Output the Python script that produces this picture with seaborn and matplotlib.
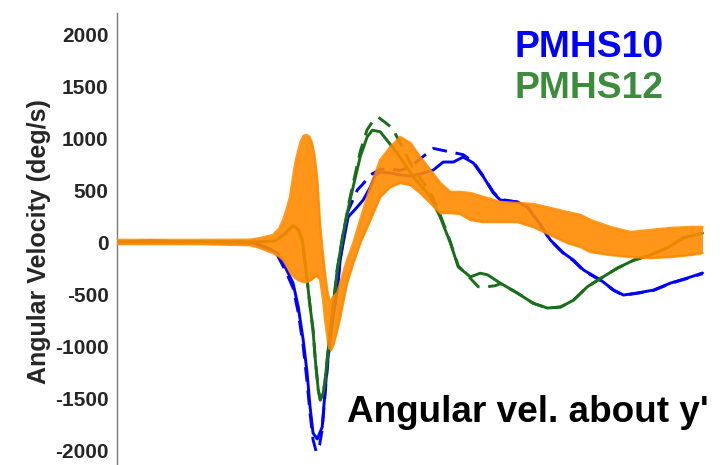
import numpy as np
import pandas as pd
import matplotlib
matplotlib.use("Agg")
import matplotlib.pyplot as plt
import seaborn as sns

# ---------------- data (time in ms, angular velocity in deg/s) ----------------
pmhs10_t = [0, 10.1, 25.3, 37.6, 42.1, 43.7, 46.7, 48.9, 51.3, 53.7, 55.3, 56.8, 58.0, 58.9,
            59.8, 61.1, 62.6, 63.5, 64.4, 65.6, 67.2, 68.1, 69.0, 70.5, 73.3, 75.1, 77.3,
            78.8, 80.3, 83.4, 86.4, 89.5, 92.5, 96.5, 99.5, 102.6, 105.6, 108.7, 111.8,
            114.8, 116.9, 122.1, 125.2, 129.2, 132.2, 136.2, 139.2, 142.3, 147.5, 151.5,
            154.5, 158.8, 163.7, 168.9, 174.0, 178.6]
pmhs10_v = [0, 10, 0, 0, -10, -29, -67, -106, -240, -394, -625, -942, -1260, -1587,
            -1837, -1894, -1779, -1423, -1106, -779, -462, -173, -10, 240, 337, 404, 529,
            644, 673, 663, 644, 635, 654, 692, 769, 769, 817, 760, 625,
            471, 404, 385, 337, 163, 19, -106, -173, -269, -365, -462,
            -510, -490, -462, -394, -346, -298]

pmhs10d_t = [0, 25.3, 37.6, 42.1, 43.7, 46.7, 48.9, 51.3, 53.7, 55.3, 56.8, 58.0, 58.9,
             59.8, 60.8, 61.8, 62.6, 63.5, 64.4, 65.6, 67.2, 68.1, 69.0, 70.5, 73.3,
             75.1, 77.3, 80.3, 83.4, 86.4, 89.5, 92.5, 96.5, 99.5, 102.6, 105.6, 108.7,
             111.8, 114.8, 116.9, 122.1, 125.2, 129.2, 132.2, 136.2, 139.2, 142.3,
             147.5, 151.5, 154.5, 158.8, 163.7, 168.9, 174.0, 178.6]
pmhs10d_v = [0, 0, 0, -15, -35, -80, -125, -270, -440, -680, -1000, -1350, -1650,
             -1900, -2020, -1950, -1800, -1450, -1120, -780, -450, -150, 20, 300, 500,
             560, 645, 700, 700, 690, 720, 800, 900, 880, 860, 840, 770,
             630, 480, 410, 385, 335, 160, 15, -110, -180, -275,
             -370, -465, -512, -492, -465, -398, -350, -305]

pmhs12_t = [0, 40.6, 48.2, 51.3, 53.7, 55.3, 56.5, 58.0, 58.9, 59.8, 60.5, 61.4, 62.0,
            62.9, 63.5, 64.4, 66.0, 67.2, 69.0, 71.1, 74.2, 76.3, 77.9, 80.3, 82.7, 85.5,
            90.4, 95.6, 98.6, 101.7, 104.1, 107.8, 110.8, 113.0, 116.9, 122.1, 127.0,
            131.3, 135.3, 139.2, 143.5, 147.5, 152.7, 157.6, 162.7, 167.9, 172.8, 178.6]
pmhs12_v = [0, 0, 10, 80, 160, 120, 20, -365, -620, -846, -1135, -1423, -1519,
            -1450, -1327, -1038, -600, -260, 85, 404, 820, 1010, 1075, 1060, 965, 855,
            625, 435, 240, -10, -240, -335, -300, -315, -395, -490, -590,
            -635, -625, -560, -430, -350, -250, -175, -125, -55, 40, 85]

pmhs12d_t = [0, 40.6, 48.2, 51.3, 53.7, 55.3, 56.5, 58.0, 58.9, 59.8, 60.5, 61.4, 62.0,
             62.9, 63.5, 64.4, 66.0, 67.2, 69.0, 71.1, 74.2, 76.3, 78.2, 79.7, 81.8,
             84.0, 86.4, 90.4, 95.6, 98.6, 101.7, 104.1, 107.8, 110.2, 113.0, 115.4,
             116.9, 122.1, 127.0, 131.3, 135.3, 139.2, 143.5, 147.5, 152.7, 157.6,
             162.7, 167.9, 172.8, 178.6]
pmhs12d_v = [0, 0, 10, 80, 160, 120, 20, -365, -620, -846, -1135, -1423, -1519,
             -1450, -1327, -1038, -600, -260, 85, 430, 870, 1080, 1170, 1200, 1150,
             1095, 950, 700, 480, 260, 0, -230, -350, -430, -430, -420,
             -400, -490, -590, -635, -625, -560, -430, -350, -250, -175,
             -125, -55, 40, 85]

corr_t = [0, 25.3, 40.6, 43.7, 47.6, 49.5, 50.7, 51.8, 52.8, 53.6, 54.4, 55.3, 56.1,
          56.9, 57.7, 58.6, 59.4, 60.2, 61.1, 62.0, 62.9, 63.5, 64.1, 64.7, 65.3, 66.0,
          67.2, 68.1, 70.2, 72.1, 74.2, 77.3, 80.3, 83.4, 86.4, 89.5, 92.5, 95.6, 98.6,
          101.7, 104.7, 107.8, 111.8, 116.9, 122.1, 127.0, 132.2, 137.4, 141.4, 144.4,
          150.5, 156.6, 162.7, 168.9, 175.0, 178.6]
corr_hi = [20, 20, 22, 38, 67, 130, 212, 320, 433, 600, 760, 880, 970,
           1020, 1030, 1015, 960, 840, 600, 144, -144, -317, -462, -558, -558, -529,
           -490, -394, -173, -10, 212, 529, 788, 913, 1010, 952, 817, 692, 567,
           481, 481, 471, 433, 385, 375, 365, 327, 288, 260, 212,
           144, 96, 115, 135, 144, 144]
corr_lo = [-20, -20, -30, -58, -106, -140, -173, -230, -288, -320, -346, -365, -375,
           -385, -385, -375, -360, -340, -327, -365, -560, -750, -894, -1019, -1038, -990,
           -846, -721, -394, -202, -10, 212, 433, 529, 567, 548, 471, 375, 279,
           279, 269, 212, 192, 192, 192, 144, 67, -10, -48, -96,
           -125, -144, -154, -144, -125, -106]

y_ticks = [-2000, -1500, -1000, -500, 0, 500, 1000, 1500, 2000]
x_ticks = [0, 20, 40, 60, 80, 100, 120, 140, 160, 180]
series_labels = ["PMHS10", "PMHS12"]
title_text = "Angular vel. about y'"
y_label = "Angular Velocity (deg/s)"

# ---------------- styling ----------------
sns.set_theme(style="white")
plt.rcParams["font.family"] = ["Liberation Sans", "DejaVu Sans"]
plt.rcParams["font.weight"] = "bold"

BLUE = "#0000FF"
GREEN = "#1A6E1A"
GREEN_TXT = "#3C8C3C"
ORANGE = "#FF8A00"

fig = plt.figure(figsize=(7.23, 4.65), dpi=100)
ax = fig.add_axes([0.1618, -0.0125, 0.8162, 0.9841])

lw = 2.1
sns.lineplot(x=pmhs10_t, y=pmhs10_v, ax=ax, color=BLUE, lw=lw, estimator=None, sort=False, zorder=2)
sns.lineplot(x=pmhs10d_t, y=pmhs10d_v, ax=ax, color=BLUE, lw=lw, estimator=None, sort=False,
             zorder=2, dashes=False, linestyle=(0, (5, 3)))
sns.lineplot(x=pmhs12_t, y=pmhs12_v, ax=ax, color=GREEN, lw=lw, estimator=None, sort=False, zorder=2)
sns.lineplot(x=pmhs12d_t, y=pmhs12d_v, ax=ax, color=GREEN, lw=lw, estimator=None, sort=False,
             zorder=2, dashes=False, linestyle=(0, (5, 3)))

ax.fill_between(corr_t, corr_lo, corr_hi, color=ORANGE, alpha=0.9, lw=0, zorder=3)
ax.plot(corr_t, corr_hi, color=ORANGE, lw=1.8, alpha=0.85, zorder=3, solid_joinstyle="round")
ax.plot(corr_t, corr_lo, color=ORANGE, lw=1.8, alpha=0.85, zorder=3, solid_joinstyle="round")

ax.set_xlim(0, 180)
ax.set_ylim(-2200, 2200)
ax.set_yticks(y_ticks)
ax.set_yticklabels([str(v) for v in y_ticks])
ax.set_xticks(x_ticks)
ax.set_xticklabels([])
ax.tick_params(axis="y", direction="in", length=4.5, width=0.8, color="#555555",
               labelsize=15, labelcolor="#262626", pad=6)
ax.tick_params(axis="x", direction="in", length=7, width=0.8, color="#c8c8c8")
for s in ["top", "right"]:
    ax.spines[s].set_visible(False)
ax.spines["left"].set_color("#7a7a7a")
ax.spines["left"].set_linewidth(1.0)
ax.spines["bottom"].set_color("#c8c8c8")

ax.set_ylabel(y_label, fontsize=18, fontweight="bold", color="#262626")
ax.yaxis.set_label_coords(-0.112, 0.5)

ax.text(0.674, 0.926, series_labels[0], transform=ax.transAxes, fontsize=26.8,
        fontweight="bold", color=BLUE, va="center", ha="left")
ax.text(0.674, 0.8365, series_labels[1], transform=ax.transAxes, fontsize=26.8,
        fontweight="bold", color=GREEN_TXT, va="center", ha="left")
ax.text(0.39, 0.1285, title_text, transform=ax.transAxes, fontsize=26.6,
        fontweight="bold", color="black", va="center", ha="left")

fig.savefig("out.png", dpi=100)
